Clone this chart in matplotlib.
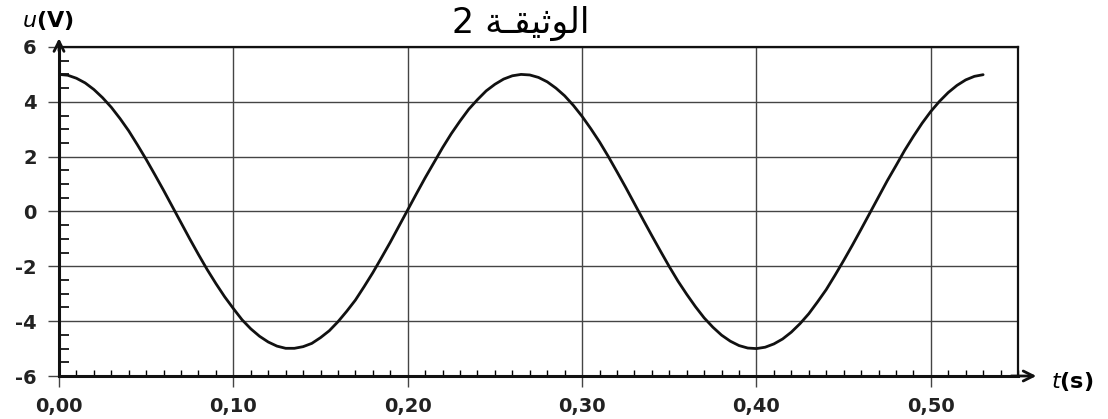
import numpy as np
import matplotlib
matplotlib.use("Agg")
import matplotlib.pyplot as plt
from matplotlib.ticker import MultipleLocator

# values, every 0.005 s
t_vals = [0.000, 0.005, 0.010, 0.015, 0.020, 0.025, 0.030, 0.035, 0.040, 0.045,
          0.050, 0.055, 0.060, 0.065, 0.070, 0.075, 0.080, 0.085, 0.090, 0.095,
          0.100, 0.105, 0.110, 0.115, 0.120, 0.125, 0.130, 0.135, 0.140, 0.145,
          0.150, 0.155, 0.160, 0.165, 0.170, 0.175, 0.180, 0.185, 0.190, 0.195,
          0.200, 0.205, 0.210, 0.215, 0.220, 0.225, 0.230, 0.235, 0.240, 0.245,
          0.250, 0.255, 0.260, 0.265, 0.270, 0.275, 0.280, 0.285, 0.290, 0.295,
          0.300, 0.305, 0.310, 0.315, 0.320, 0.325, 0.330, 0.335, 0.340, 0.345,
          0.350, 0.355, 0.360, 0.365, 0.370, 0.375, 0.380, 0.385, 0.390, 0.395,
          0.400, 0.405, 0.410, 0.415, 0.420, 0.425, 0.430, 0.435, 0.440, 0.445,
          0.450, 0.455, 0.460, 0.465, 0.470, 0.475, 0.480, 0.485, 0.490, 0.495,
          0.500, 0.505, 0.510, 0.515, 0.520, 0.525, 0.530]
u_vals = [5.00, 4.97, 4.86, 4.69, 4.45, 4.15, 3.80, 3.39, 2.94, 2.43,
          1.90, 1.34, 0.77, 0.18, -0.41, -1.00, -1.57, -2.12, -2.63, -3.11,
          -3.54, -3.95, -4.28, -4.55, -4.76, -4.91, -4.99, -4.99, -4.93, -4.81,
          -4.60, -4.35, -4.02, -3.64, -3.23, -2.74, -2.23, -1.68, -1.12, -0.53,
          0.06, 0.65, 1.23, 1.78, 2.33, 2.84, 3.30, 3.73, 4.08, 4.40,
          4.64, 4.83, 4.95, 5.00, 4.98, 4.89, 4.73, 4.50, 4.22, 3.87,
          3.47, 3.02, 2.54, 2.01, 1.45, 0.88, 0.29, -0.30, -0.88, -1.45,
          -2.01, -2.54, -3.02, -3.47, -3.88, -4.22, -4.51, -4.73, -4.89, -4.98,
          -5.00, -4.95, -4.83, -4.65, -4.40, -4.09, -3.73, -3.30, -2.85, -2.33,
          -1.79, -1.23, -0.65, -0.06, 0.53, 1.12, 1.67, 2.23, 2.74, 3.22,
          3.65, 4.02, 4.34, 4.60, 4.80, 4.93, 4.99]

x_ticks = [0.0, 0.1, 0.2, 0.3, 0.4, 0.5]
x_labels = ["0,00", "0,10", "0,20", "0,30", "0,40", "0,50"]
y_ticks = [-6, -4, -2, 0, 2, 4, 6]
y_labels = ["-6", "-4", "-2", "0", "2", "4", "6"]

# Arabic title in visual (shaped) order: "الوثيقـة 2"
title = "2 " + "\uFE94\u0640\uFED8\uFEF4\uFE9B\uFEEE\uFEDF\uFE8D"

fig = plt.figure(figsize=(11.08, 4.19), dpi=100)
ax = fig.add_axes([59 / 1108, 1 - 376 / 419, (1018 - 59) / 1108, (376 - 47) / 419])

ax.plot(t_vals, u_vals, color="#111111", lw=2.0, solid_capstyle="round")

ax.set_xlim(0, 0.55)
ax.set_ylim(-6, 6)
ax.set_xticks(x_ticks)
ax.set_xticklabels(x_labels)
ax.set_yticks(y_ticks)
ax.set_yticklabels(y_labels)
ax.xaxis.set_minor_locator(MultipleLocator(0.01))
ax.yaxis.set_minor_locator(MultipleLocator(0.5))

ax.grid(True, which="major", color="#444444", lw=1.0)
ax.tick_params(axis="both", which="major", direction="out", length=8,
               width=1.0, color="#444444", labelsize=14)
ax.tick_params(axis="x", which="major", pad=7)
ax.tick_params(axis="y", which="major", pad=8)
ax.tick_params(axis="x", which="minor", direction="in", length=4, width=1.0)
ax.tick_params(axis="y", which="minor", direction="in", length=7, width=1.2)
for lab in ax.get_xticklabels() + ax.get_yticklabels():
    lab.set_fontweight("bold")
    lab.set_family("DejaVu Sans")
    lab.set_color("#222222")

ax.spines["left"].set_linewidth(2.2)
ax.spines["bottom"].set_linewidth(2.2)
ax.spines["top"].set_linewidth(1.6)
ax.spines["right"].set_linewidth(1.6)
for s in ax.spines.values():
    s.set_color("#111111")

# axis arrows
ax.annotate("", xy=(0, 1.035), xytext=(0, 0.98), xycoords="axes fraction",
            arrowprops=dict(arrowstyle="->", lw=2.0, color="#111111",
                            mutation_scale=18), annotation_clip=False)
ax.annotate("", xy=(1.022, 0), xytext=(0.99, 0), xycoords="axes fraction",
            arrowprops=dict(arrowstyle="->", lw=2.0, color="#111111",
                            mutation_scale=18), annotation_clip=False)

fig.text(22 / 1108, 1 - 21 / 419, "$\\mathit{u}$(V)", fontsize=16,
         fontweight="bold", family="DejaVu Sans", va="center", ha="left")
fig.text(1051 / 1108, 1 - 381 / 419, "$\\mathit{t}$(s)", fontsize=16,
         fontweight="bold", family="DejaVu Sans", va="center", ha="left")
fig.text(521 / 1108, 1 - 23 / 419, title, fontsize=25,
         family=["DejaVu Sans"], va="center", ha="center")

fig.savefig("out.png", dpi=100)
